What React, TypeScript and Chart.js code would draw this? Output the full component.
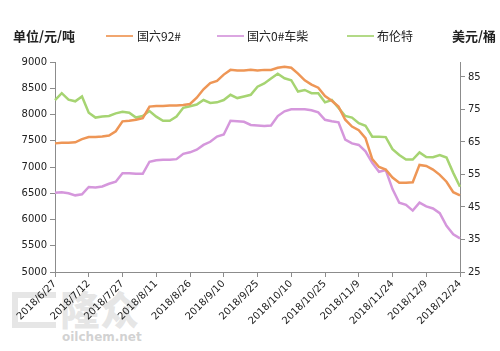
import React, { useEffect, useRef } from "react";
import { Chart, registerables } from "chart.js";

Chart.register(...registerables);

// dates every 3 days from 2018/6/27 to 2018/12/24
const dates: string[] = [
  "2018/6/27","2018/6/30","2018/7/3","2018/7/6","2018/7/9","2018/7/12","2018/7/15","2018/7/18","2018/7/21","2018/7/24",
  "2018/7/27","2018/7/30","2018/8/2","2018/8/5","2018/8/8","2018/8/11","2018/8/14","2018/8/17","2018/8/20","2018/8/23",
  "2018/8/26","2018/8/29","2018/9/1","2018/9/4","2018/9/7","2018/9/10","2018/9/13","2018/9/16","2018/9/19","2018/9/22",
  "2018/9/25","2018/9/28","2018/10/1","2018/10/4","2018/10/7","2018/10/10","2018/10/13","2018/10/16","2018/10/19","2018/10/22",
  "2018/10/25","2018/10/28","2018/10/31","2018/11/3","2018/11/6","2018/11/9","2018/11/12","2018/11/15","2018/11/18","2018/11/21",
  "2018/11/24","2018/11/27","2018/11/30","2018/12/3","2018/12/6","2018/12/9","2018/12/12","2018/12/15","2018/12/18","2018/12/21",
  "2018/12/24",
];

const gasoline92: number[] = [
  7450,7460,7460,7470,7530,7570,7570,7580,7600,7680,
  7870,7880,7900,7930,8150,8160,8160,8170,8170,8180,
  8200,8320,8480,8600,8640,8760,8850,8840,8840,8850,
  8840,8850,8850,8890,8910,8890,8780,8650,8570,8510,
  8350,8260,8150,7900,7770,7700,7550,7150,7000,6950,
  6800,6700,6700,6710,7040,7020,6950,6850,6720,6520,
  6460,
];

const diesel0: number[] = [
  6510,6520,6500,6460,6480,6620,6610,6630,6680,6720,
  6880,6880,6870,6870,7100,7130,7140,7140,7150,7250,
  7280,7330,7420,7480,7580,7620,7880,7870,7860,7800,
  7790,7780,7790,7970,8060,8100,8100,8100,8080,8040,
  7900,7870,7850,7520,7450,7420,7300,7080,6910,6940,
  6580,6320,6280,6170,6320,6250,6210,6120,5880,5720,
  5640,
];

const brent: number[] = [
  77.9,80.0,78.0,77.5,79.0,74.0,72.5,72.8,73.0,73.8,
  74.3,74.0,72.5,73.0,74.5,72.8,71.5,71.5,72.8,75.5,
  76.0,76.5,77.9,77.0,77.2,77.9,79.5,78.5,79.0,79.5,
  82.0,83.0,84.5,86.0,84.6,84.0,80.5,81.0,80.0,80.0,
  77.2,77.9,75.5,73.0,72.5,70.8,70.0,66.6,66.6,66.5,
  62.8,61.0,59.6,59.6,61.8,60.4,60.3,61.0,60.2,55.5,
  51.2,
];

const leftTicks = { min: 5000, max: 9000, step: 500 };
const rightTickValues: number[] = [25, 35, 45, 55, 65, 75, 85];
const rightMax = 89.6;

const COLORS = {
  orange: "#EE9656",
  purple: "#D597DC",
  green: "#A6D472",
  axis: "#8C8C8C",
  text: "#222222",
};

const TICK_FONT = { family: "DejaVu Sans", size: 10 };

export default function App() {
  const ref = useRef<HTMLCanvasElement | null>(null);

  useEffect(() => {
    if (!ref.current) return;
    const everyFifth = (ctx: any) =>
      ctx.index % 5 === 0 ? COLORS.axis : "rgba(0,0,0,0)";
    const chart = new Chart(ref.current, {
      type: "line",
      data: {
        labels: dates,
        datasets: [
          {
            label: "国六92#",
            data: gasoline92,
            borderColor: COLORS.orange,
            yAxisID: "y",
          },
          {
            label: "国六0#车柴",
            data: diesel0,
            borderColor: COLORS.purple,
            yAxisID: "y",
          },
          {
            label: "布伦特",
            data: brent,
            borderColor: COLORS.green,
            yAxisID: "y1",
          },
        ],
      },
      options: {
        animation: false,
        responsive: false,
        maintainAspectRatio: false,
        layout: { padding: { top: 62, left: 0, right: 0, bottom: 0 } },
        elements: {
          line: { borderWidth: 2.5, tension: 0 },
          point: { radius: 0 },
        },
        plugins: {
          legend: { display: false },
          tooltip: { enabled: false },
        },
        scales: {
          x: {
            type: "category",
            offset: false,
            grid: {
              drawOnChartArea: false,
              drawTicks: true,
              tickLength: 5,
              color: everyFifth,
              tickColor: everyFifth,
            },
            border: { color: COLORS.axis, width: 1 },
            ticks: {
              autoSkip: false,
              maxRotation: 45,
              minRotation: 45,
              padding: 1,
              color: COLORS.text,
              font: TICK_FONT,
              callback: (_v: any, i: number) => (i % 5 === 0 ? dates[i] : ""),
            },
            afterFit: (s: any) => {
              s.height = 79;
            },
          },
          y: {
            position: "left",
            min: leftTicks.min,
            max: leftTicks.max,
            grid: {
              drawOnChartArea: false,
              drawTicks: true,
              tickLength: 5,
              color: COLORS.axis,
            },
            border: { color: COLORS.axis, width: 1 },
            ticks: {
              stepSize: leftTicks.step,
              padding: 3,
              color: COLORS.text,
              font: TICK_FONT,
              callback: (v: any) => String(v),
            },
            afterFit: (s: any) => {
              s.width = 55;
            },
          },
          y1: {
            position: "right",
            min: rightTickValues[0],
            max: rightMax,
            grid: {
              drawOnChartArea: false,
              drawTicks: true,
              tickLength: 5,
              color: COLORS.axis,
            },
            border: { color: COLORS.axis, width: 1 },
            ticks: {
              padding: 3,
              color: COLORS.text,
              font: TICK_FONT,
              callback: (v: any) => String(v),
            },
            afterBuildTicks: (s: any) => {
              s.ticks = rightTickValues.map((v) => ({ value: v }));
            },
            afterFit: (s: any) => {
              s.width = 40;
            },
          },
        },
      },
    });
    return () => chart.destroy();
  }, []);

  const legendText: React.CSSProperties = {
    position: "absolute",
    top: 27,
    fontFamily: "'Noto Sans CJK SC', sans-serif",
    fontSize: 12,
    color: "#222",
    lineHeight: "18px",
    whiteSpace: "nowrap",
  };
  const bold: React.CSSProperties = {
    ...legendText,
    fontSize: 13,
    fontWeight: 700,
  };
  const line = (left: number, color: string): React.CSSProperties => ({
    position: "absolute",
    left,
    top: 35,
    width: 27,
    height: 2,
    background: color,
    opacity: 0.85,
  });

  return (
    <div
      style={{
        position: "absolute",
        left: 0,
        top: 0,
        width: 500,
        height: 351,
        background: "#fff",
        overflow: "hidden",
      }}
    >
      {/* watermark */}
      <div
        style={{
          position: "absolute",
          left: 12,
          top: 292,
          width: 44,
          height: 36,
          border: "6px solid rgba(200,200,200,0.45)",
          borderRight: "none",
          boxSizing: "border-box",
        }}
      />
      <div
        style={{
          position: "absolute",
          left: 60,
          top: 284,
          fontFamily: "'Noto Sans CJK SC', sans-serif",
          fontSize: 40,
          fontWeight: 900,
          color: "rgba(200,200,200,0.45)",
          lineHeight: "48px",
        }}
      >
        隆众
      </div>
      <div
        style={{
          position: "absolute",
          left: 62,
          top: 330,
          fontFamily: "'DejaVu Sans', sans-serif",
          fontSize: 12,
          fontWeight: 700,
          color: "rgba(190,190,190,0.7)",
          lineHeight: "14px",
        }}
      >
        oilchem.net
      </div>
      <canvas
        ref={ref}
        width={500}
        height={351}
        style={{ position: "absolute", left: 0, top: 0, width: 500, height: 351 }}
      />
      <div style={{ ...bold, left: 13 }}>单位/元/吨</div>
      <div style={line(106, COLORS.orange)} />
      <div style={{ ...legendText, left: 137 }}>国六92#</div>
      <div style={line(217, COLORS.purple)} />
      <div style={{ ...legendText, left: 247 }}>国六0#车柴</div>
      <div style={line(347, COLORS.green)} />
      <div style={{ ...legendText, left: 377 }}>布伦特</div>
      <div style={{ ...bold, left: 452 }}>美元/桶</div>
    </div>
  );
}
